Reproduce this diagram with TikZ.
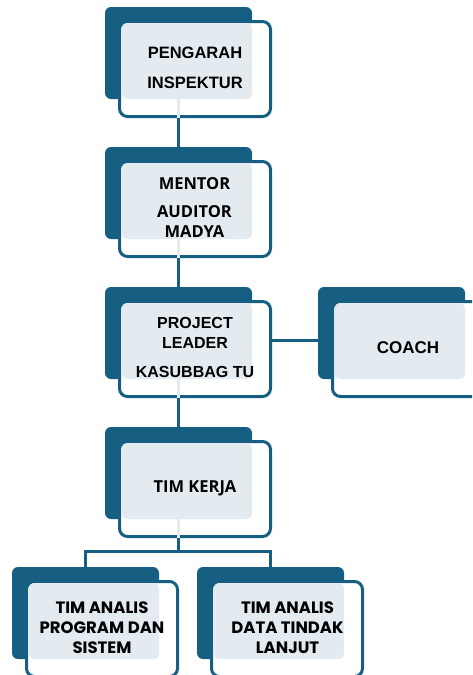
\documentclass[tikz,border=0pt]{standalone}
\usepackage{fontspec}
\setmainfont{Liberation Sans}
\newfontfamily\humfont{Open Sans}
\newfontfamily\geofont{Poppins}
\definecolor{teal}{HTML}{175F82}
\definecolor{panel}{HTML}{E4EBF0}
\tikzset{
  backbox/.style={fill=teal, rounded corners=6pt},
  frontbox/.style={draw=teal, line width=3pt, fill=white, rounded corners=8pt,
    minimum width=151pt, minimum height=95pt, inner sep=0pt},
  panelbox/.style={fill=panel, rounded corners=5pt},
  link/.style={draw=teal, line width=3pt},
  faint/.style={draw=panel, line width=3pt},
  label/.style={align=center, text=black, inner sep=0pt},
}
% one card: dark back plate at (#2,#3) top-left, white framed card in front,
% pale panel where the two overlap, and a pale stub of the trunk line below it
\newcommand{\orgcard}[3]{%
  \fill[backbox] (#2,#3) rectangle ++(147,92);
  \node[frontbox] (#1) at (#2+90,#3+62) {};
  \fill[panelbox] (#2+17,#3+16) rectangle (#2+147,#3+92);
}
\begin{document}
\begin{tikzpicture}[x=1pt,y=-1pt]
\useasboundingbox (0,0) rectangle (472,675);
\begin{scope}
\clip (0,0) rectangle (472,675);

% connectors behind the cards
\coordinate (split) at (178,551);
\coordinate (leftdrop) at (85,551);
\coordinate (rightdrop) at (270,551);
\coordinate (lefttop) at (85,570);
\coordinate (righttop) at (270,570);
\draw[link] (178,110) -- (178,150);
\draw[link] (178,250) -- (178,290);
\draw[link] (178,390) -- (178,430);
\draw[link] (260,340) -- (325,340);
\draw[link] (178,530) -- (split);
\draw[link] (lefttop) -- (leftdrop) -- (rightdrop) -- (righttop);

\orgcard{pengarah}{105}{7}
\orgcard{mentor}{105}{147}
\orgcard{leader}{105}{287}
\orgcard{coach}{318}{287}
\orgcard{timkerja}{105}{427}
\orgcard{analisprog}{12}{567}
\orgcard{analisdata}{197}{567}

% pale stubs of the trunk line crossing the white band of each card
\draw[faint] (178,99) -- (178,117.5);
\draw[faint] (178,239) -- (178,257.5);
\draw[faint] (178,379) -- (178,397.5);
\draw[faint] (178,519) -- (178,537.5);

% labels
\node[label, font=\bfseries\fontsize{16.5}{20}\selectfont] (tpengarah) at (195,68)
  {PENGARAH\\[10pt]INSPEKTUR};
\node[label, font=\humfont\bfseries\fontsize{16.5}{20}\selectfont] (tmentor) at (194.5,208)
  {MENTOR\\[8pt]AUDITOR\\MADYA};
\node[label, font=\bfseries\fontsize{16}{20}\selectfont] (tleader) at (195,347.5)
  {PROJECT\\LEADER\\[9pt]KASUBBAG TU};
\node[label, font=\bfseries\fontsize{17}{20}\selectfont] (tcoach) at (408,348) {COACH};
\node[label, font=\humfont\bfseries\fontsize{16.5}{20}\selectfont] (ttimkerja) at (195,488) {TIM KERJA};
\node[label, font=\geofont\bfseries\fontsize{16.5}{20}\selectfont] (tprog) at (102,628)
  {TIM ANALIS\\PROGRAM DAN\\SISTEM};
\node[label, font=\geofont\bfseries\fontsize{16.5}{20}\selectfont] (tdata) at (287.5,628)
  {TIM ANALIS\\DATA TINDAK\\LANJUT};
\end{scope}
\end{tikzpicture}
\end{document}
